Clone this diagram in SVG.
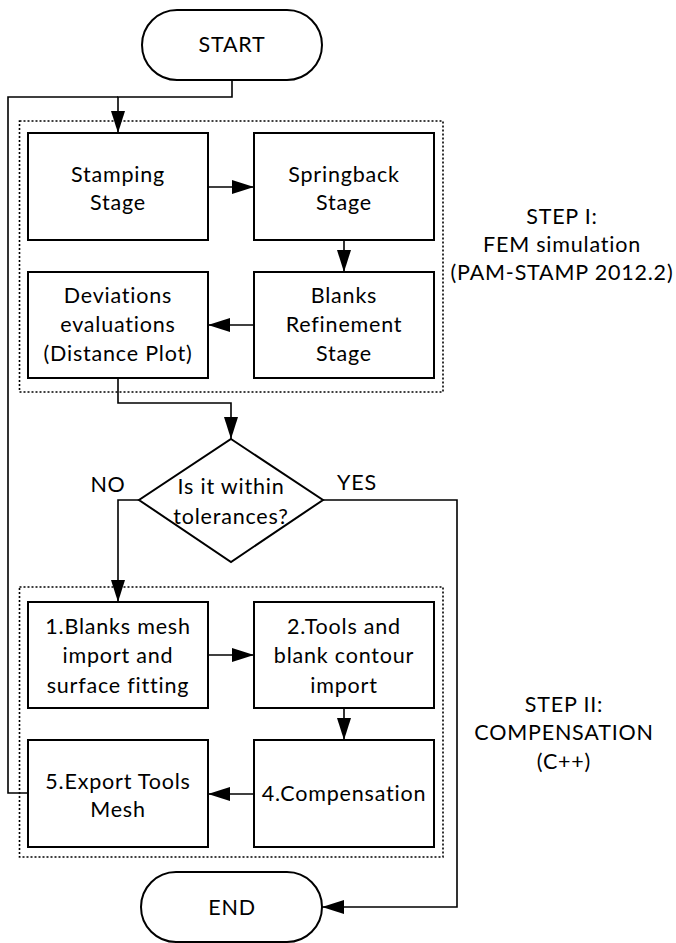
<svg xmlns="http://www.w3.org/2000/svg" width="676" height="943" viewBox="0 0 676 943">
<style>
.box{fill:#fff;stroke:#000;stroke-width:2}
.grp{fill:none;stroke:#000;stroke-width:1.6;stroke-dasharray:2 2}
.con{fill:none;stroke:#000;stroke-width:1.6}
text{font-family:Lato,"Liberation Sans",sans-serif;font-size:21.5px;fill:#000;text-anchor:middle;letter-spacing:0.8px}
</style>
<defs>
<marker id="arr" viewBox="0 0 22 14" markerWidth="22" markerHeight="14" refX="22" refY="7" orient="auto" markerUnits="userSpaceOnUse">
<path d="M0,0 L22,7 L0,14 z" fill="#000"/>
</marker>
</defs>
<rect class="grp" x="19.5" y="121" width="423.5" height="271"/>
<rect class="grp" x="19.5" y="587" width="423.5" height="270"/>
<g id="connectors">
<path class="con" d="M28,793 H8 V97 H118"/>
<path class="con" d="M232,80 V97 H118 V133" marker-end="url(#arr)"/>
<path class="con" d="M208,187 H254" marker-end="url(#arr)"/>
<path class="con" d="M344,240 V272" marker-end="url(#arr)"/>
<path class="con" d="M254,325 H208" marker-end="url(#arr)"/>
<path class="con" d="M118,378 V403 H231 V439" marker-end="url(#arr)"/>
<path class="con" d="M139,500 H118 V602" marker-end="url(#arr)"/>
<path class="con" d="M323,500 H457 V907 H322" marker-end="url(#arr)"/>
<path class="con" d="M208,655 H254" marker-end="url(#arr)"/>
<path class="con" d="M344,708 V740" marker-end="url(#arr)"/>
<path class="con" d="M254,794 H208" marker-end="url(#arr)"/>
</g>
<g id="start">
<rect class="box" x="142" y="10" width="180" height="70" rx="35" ry="35"/>
<text x="232" y="52">START</text>
</g>
<g id="stamping">
<rect class="box" x="28" y="133" width="180" height="107"/>
<text x="118" y="182">Stamping</text>
<text x="118" y="210">Stage</text>
</g>
<g id="springback">
<rect class="box" x="254" y="133" width="180" height="107"/>
<text x="344" y="182">Springback</text>
<text x="344" y="210">Stage</text>
</g>
<g id="blanks-refinement">
<rect class="box" x="254" y="272" width="180" height="106"/>
<text x="344" y="303">Blanks</text>
<text x="344" y="332">Refinement</text>
<text x="344" y="361">Stage</text>
</g>
<g id="deviations">
<rect class="box" x="28" y="272" width="180" height="106"/>
<text x="118" y="303">Deviations</text>
<text x="118" y="332">evaluations</text>
<text x="118" y="361">(Distance Plot)</text>
</g>
<g id="decision">
<polygon class="box" points="231,439 323,500 231,562 139,500"/>
<text x="231" y="494">Is it within</text>
<text x="231" y="524">tolerances?</text>
</g>
<g id="labels">
<text x="108" y="492">NO</text>
<text x="357" y="490">YES</text>
<text x="562" y="224">STEP I:</text>
<text x="562" y="252">FEM simulation</text>
<text x="562" y="280">(PAM-STAMP 2012.2)</text>
<text x="564" y="712">STEP II:</text>
<text x="564" y="740">COMPENSATION</text>
<text x="564" y="769">(C++)</text>
</g>
<g id="blanks-mesh">
<rect class="box" x="28" y="602" width="180" height="106"/>
<text x="118" y="634">1.Blanks mesh</text>
<text x="118" y="663">import and</text>
<text x="118" y="693">surface fitting</text>
</g>
<g id="tools-import">
<rect class="box" x="254" y="602" width="180" height="106"/>
<text x="344" y="634">2.Tools and</text>
<text x="344" y="663">blank contour</text>
<text x="344" y="693">import</text>
</g>
<g id="compensation">
<rect class="box" x="254" y="740" width="180" height="107"/>
<text x="344" y="801">4.Compensation</text>
</g>
<g id="export">
<rect class="box" x="28" y="740" width="180" height="107"/>
<text x="118" y="789">5.Export Tools</text>
<text x="118" y="817">Mesh</text>
</g>
<g id="end">
<rect class="box" x="141" y="872" width="181" height="70" rx="35" ry="35"/>
<text x="232" y="915">END</text>
</g>
</svg>
